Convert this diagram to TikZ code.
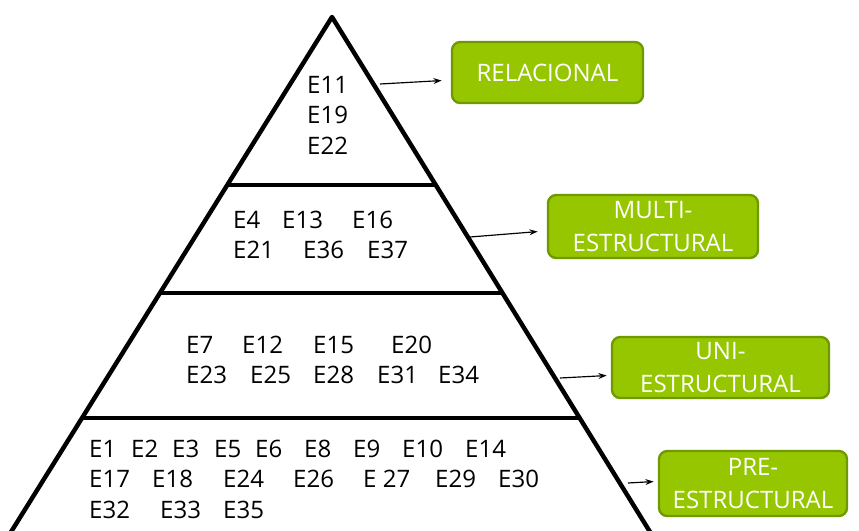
\documentclass[tikz,border=0pt]{standalone}
\usepackage{fontspec}
\setmainfont{Open Sans}
\usepackage{tikz}
\usetikzlibrary{calc}
\usetikzlibrary{arrows.meta}
\definecolor{levelgreen}{HTML}{95C600}
\definecolor{leveledge}{HTML}{6E9A00}
\tikzset{
	pyrside/.style={line width=3.8pt, line join=round},
	pyrcut/.style={line width=2.6pt},
	elabel/.style={anchor=base west, inner sep=0pt, font=\fontsize{20.5}{24}\selectfont},
	levelbox/.style={draw=leveledge, fill=levelgreen, line width=2pt, rounded corners=7pt,
		text=white, align=center, inner sep=0pt, font=\fontsize{20.5}{28}\selectfont},
	pointer/.style={-{Stealth[length=7pt,width=5pt]}, line width=1pt, shorten >=1pt}
}

\begin{document}
\begin{tikzpicture}[x=0.03cm, y=-0.03cm]

	\useasboundingbox (0,0) rectangle (859,531);
	\clip (0,0) rectangle (859,531);

	% pyramid
	\coordinate (apex) at (332,17);
	\coordinate (bl) at (6,540);
	\coordinate (br) at (655,540);
	\draw[pyrside] (bl) -- (apex) -- (br);
	\draw[pyrcut] ($(apex)!0.3212!(bl)$) -- ($(apex)!0.3212!(br)$);
	\draw[pyrcut] ($(apex)!0.5277!(bl)$) -- ($(apex)!0.5277!(br)$);
	\draw[pyrcut] ($(apex)!0.7667!(bl)$) -- ($(apex)!0.7667!(br)$);

	% top tier
	\node[elabel] (e11) at (307,93) {E11};
	\node[elabel] (e19) at (307,123) {E19};
	\node[elabel] (e22) at (307,154) {E22};

	% second tier
	\foreach \x/\num in {233/4, 282/13, 352/16}
		\node[elabel] (e\num) at (\x,228) {E\num};
	\foreach \x/\num in {233/21, 303/36, 367/37}
		\node[elabel] (e\num) at (\x,258) {E\num};

	% third tier
	\foreach \x/\num in {186/7, 242/12, 313/15, 391/20}
		\node[elabel] (e\num) at (\x,353) {E\num};
	\foreach \x/\num in {186/23, 250/25, 313/28, 377/31, 438/34}
		\node[elabel] (e\num) at (\x,383) {E\num};

	% bottom tier
	\foreach \x/\num in {89/1, 131/2, 172/3, 214/5, 255/6, 304/8, 353/9, 402/10, 465/14}
		\node[elabel] (e\num) at (\x,457) {E\num};
	\foreach \x/\num in {89/17, 152/18, 223/24, 293/26, 435/29, 498/30}
		\node[elabel] (e\num) at (\x,487) {E\num};
	\node[elabel] (e27) at (363,487) {E 27};
	\foreach \x/\num in {89/32, 160/33, 223/35}
		\node[elabel] (e\num) at (\x,518) {E\num};

	% levels
	\node[levelbox, minimum width=5.73cm, minimum height=1.83cm] (rel) at (547.5,72.5) {RELACIONAL};
	\node[levelbox, minimum width=6.3cm, minimum height=1.89cm] (multi) at (653,226.5) {MULTI-\\ESTRUCTURAL};
	\node[levelbox, minimum width=6.51cm, minimum height=1.83cm] (uni) at (720.5,367.5) {UNI-\\ESTRUCTURAL};
	\node[levelbox, minimum width=5.64cm, minimum height=1.95cm] (pre) at (753,483.5) {PRE-\\ESTRUCTURAL};

	% pointers
	\coordinate (p1) at (380,84);
	\coordinate (p2) at (470,237);
	\coordinate (p3) at (560,378);
	\coordinate (p4) at (628,483);
	\draw[pointer] (p1) -- ($(rel.west)+(-8,8)$);
	\draw[pointer] (p2) -- ($(multi.west)+(-8,5)$);
	\draw[pointer] (p3) -- ($(uni.west)+(-3,8)$);
	\draw[pointer] (p4) -- ($(pre.west)+(-3,-2)$);

\end{tikzpicture}
\end{document}
